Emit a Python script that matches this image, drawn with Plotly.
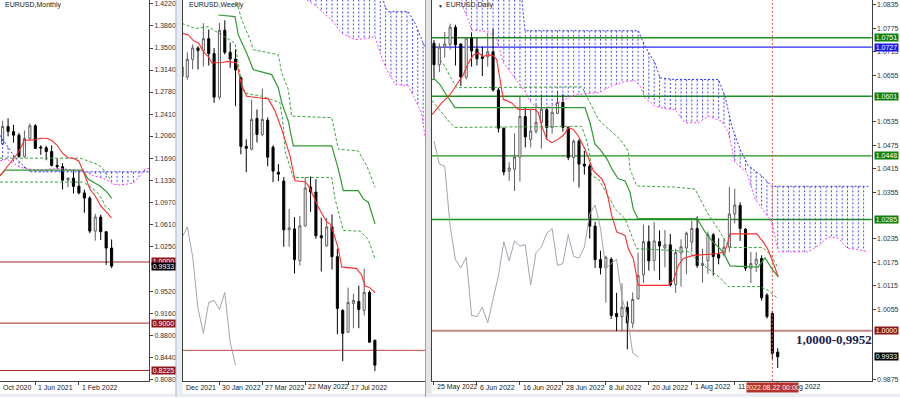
import numpy as np
import plotly.graph_objects as go

W, H = 900, 399
FONT = "Liberation Sans, Arial, sans-serif"

# ===================== DATA =====================
# ---- Monthly EURUSD, bars Dec 2020 .. Aug 2022 (index 0 = Dec 2020)
m_open  = [1.1927,1.2215,1.2136,1.2074,1.1728,1.2019,1.2228,1.1880,1.1869,1.1807,1.1580,
           1.1558,1.1338,1.1370,1.1240,1.1130,1.1045,1.0505,1.0735,1.0495,1.0228]
m_high  = [1.2310,1.2349,1.2243,1.2113,1.2150,1.2266,1.2254,1.1909,1.1901,1.1909,1.1692,
           1.1616,1.1386,1.1482,1.1495,1.1185,1.1076,1.0787,1.0774,1.0500,1.0369]
m_low   = [1.1924,1.2054,1.1952,1.1704,1.1704,1.1986,1.1847,1.1752,1.1664,1.1563,1.1524,
           1.1186,1.1222,1.1121,1.1106,1.0806,1.0471,1.0349,1.0359,0.9952,0.9901]
m_close = [1.2216,1.2136,1.2074,1.1728,1.2019,1.2228,1.1858,1.1866,1.1807,1.1580,1.1558,
           1.1338,1.1370,1.1235,1.1130,1.1045,1.0505,1.0735,1.0495,1.0228,0.9933]
m_tenkan_x = [-0.48,0.75,1.96,2.88,3.8,4,5,6,7,8,9,10,11,12,13,14,15,16,17,18,19,20]
m_tenkan_v = [1.1410,1.1546,1.1681,1.1790,1.1953,1.1991,1.1991,1.1999,1.2023,1.2023,1.1991,
              1.1909,1.1779,1.1706,1.1698,1.1649,1.1437,1.1193,1.1079,1.0916,1.0819,1.0721]
m_kijun_x = [-0.48,0.44,14.75,15.67,17.87,19.16,20]
m_kijun_v = [1.1410,1.1502,1.1502,1.1356,1.1242,1.1144,1.1040]
m_dash_up_x = [-0.48,14.2,17.3,18.2,19.3,20]
m_dash_up_v = [1.1698,1.1698,1.1600,1.1551,1.1405,1.1323]
m_dash_lo_x = [-0.48,14.6,15.7,17.3,18.2,18.8,20]
m_dash_lo_v = [1.1307,1.1307,1.1258,1.1144,1.1030,1.0916,1.0835]
m_cloud_a_x = [-0.48,0.44,1.36,2.27,3.19,4.11,5.03,26.9]
m_cloud_a_v = [1.2072,1.1953,1.1816,1.1709,1.1628,1.1546,1.1475,1.1475]
m_cloud_b_x = [-0.48,0.75,2.27,3.19,5.03,6.86,8.7,10.5,11.76,13.6,15.43,16.64,17.87,19.1,
               20.3,21.5,22.8,24,25.2,26.1,26.9]
m_cloud_b_v = [1.1654,1.1681,1.1600,1.1546,1.1519,1.1502,1.1519,1.1530,1.1519,1.1502,1.1465,
               1.1410,1.1383,1.1344,1.1274,1.1258,1.1274,1.1291,1.1410,1.1519,1.1530]
m_ticks = [1.4220,1.3860,1.3500,1.3140,1.2780,1.2410,1.2060,1.1690,1.1330,1.0970,1.0610,
           1.0250,0.9520,0.9160,0.8800,0.8440,0.8080]
m_levels = [1.0000, 0.9000, 0.8225]
m_date_idx = [-0.48, 6, 14]
m_date_txt = ["Oct 2020", "1 Jun 2021", "1 Feb 2022"]
m_tick_idx = [6, 14]

# ---- Weekly EURUSD (index 0 = week of 12 Dec 2021 .. 36 = 21 Aug 2022)
w_open  = [1.1285,1.1238,1.1318,1.1370,1.1358,1.1412,1.1344,1.1147,1.1450,1.1350,
           1.1320,1.1235,1.0924,1.0911,1.1050,1.0978,1.1042,1.0920,1.0807,1.0767,
           1.0546,1.0550,1.0406,1.0564,1.0740,1.0717,1.0519,1.0474,1.0559,1.0424,
           1.0181,1.0082,1.0212,1.0221,1.0181,1.0262,1.0046]
w_high  = [1.1360,1.1350,1.1386,1.1377,1.1482,1.1453,1.1370,1.1483,1.1495,1.1395,
           1.1365,1.1240,1.0956,1.1136,1.1091,1.1186,1.1055,1.0929,1.0843,1.0785,
           1.0641,1.0604,1.0609,1.0785,1.0787,1.0776,1.0601,1.0600,1.0615,1.0460,
           1.0186,1.0284,1.0257,1.0293,1.0370,1.0271,1.0046]
w_low   = [1.1222,1.1226,1.1273,1.1272,1.1286,1.1290,1.1121,1.1136,1.1340,1.1280,
           1.1106,1.0888,1.0807,1.0906,1.0942,1.0970,1.0834,1.0762,1.0767,1.0469,
           1.0469,1.0348,1.0384,1.0560,1.0627,1.0505,1.0357,1.0469,1.0366,1.0073,
           0.9951,1.0080,1.0100,1.0100,1.0158,1.0034,0.9906]
w_close = [1.1240,1.1318,1.1370,1.1358,1.1412,1.1344,1.1147,1.1450,1.1350,1.1320,
           1.1270,1.0924,1.0915,1.1046,1.0978,1.1046,1.0875,1.0812,1.0798,1.0546,
           1.0555,1.0411,1.0564,1.0735,1.0717,1.0519,1.0510,1.0559,1.0424,1.0190,
           1.0077,1.0217,1.0226,1.0185,1.0262,1.0037,0.9933]
w_tenkan_x = [0.0,1.19,2.13,3.06,4.31,4.93,5.56,7.43,8.66,10.22,11.16,12.09,14.25,16.12,17.37,
              18.62,20.17,21.1,22.97,23.58,24.51,25.45,27.01,27.63,28.25,29.18,29.81,32.61,
              33.54,34.16,35.09,36.03]
w_tenkan_v = [1.1437,1.1429,1.1403,1.1392,1.1344,1.1331,1.1302,1.1304,1.1309,1.1302,1.1196,
              1.1151,1.1144,1.1139,1.1084,1.1001,1.0881,1.0768,1.0764,1.0746,1.0700,1.0648,
              1.0581,1.0573,1.0535,1.0460,1.0378,1.0370,1.0340,1.0292,1.0283,1.0261]
w_kijun_x = [6.79,9.91,10.52,12.09,13.32,16.75,17.99,18.62,19.85,20.78,27.95,29.18,30.11,
             32.91,33.84,34.78,36.03]
w_kijun_v = [1.1519,1.1512,1.1429,1.1346,1.1271,1.1249,1.1189,1.1121,1.1038,1.0926,1.0926,
             1.0821,1.0723,1.0723,1.0686,1.0671,1.0573]
w_dash_lo_x = [0.0,2.44,4.93,9.91,10.52,11.16,11.77,14.89,16.75,18.3,18.92,19.24,20.78,
               27.95,28.56,30.11,33.23,34.78,36.03]
w_dash_lo_v = [1.1481,1.1458,1.1466,1.1391,1.1293,1.1211,1.1166,1.1151,1.1136,1.1121,1.1016,
               1.0903,1.0783,1.0783,1.0686,1.0543,1.0540,1.0502,1.0415]
w_dash_up_x = [10.0,11.16,12.71,13.32,17.99,18.62,19.85,20.49,27.95,28.56,29.18,32.91,34.48,36.03]
w_dash_up_v = [1.1600,1.1497,1.1407,1.1362,1.1339,1.1256,1.1181,1.1061,1.1054,1.0986,1.0911,
               1.0903,1.0836,1.0738]
w_cloud_a_x = [22.0,36.5,37.9,38.5,42.2,43.5,45.4]
w_cloud_a_v = [1.1680,1.1680,1.1557,1.1534,1.1534,1.1481,1.1370]
w_cloud_b_x = [22.0,23.3,24.8,27.9,29.8,32.3,34.8,36.0,37.0,37.9,39.8,42.2,43.2,44.7,45.4]
w_cloud_b_v = [1.1630,1.1587,1.1564,1.1497,1.1437,1.1407,1.1414,1.1422,1.1347,1.1286,1.1204,
               1.1199,1.1151,1.1076,1.0960]
w_level = 1.0000
w_date_txt = ["Dec 2021", "30 Jan 2022", "27 Mar 2022", "22 May 2022", "17 Jul 2022"]
w_date_idx = [0.2, 7, 15, 23, 31]

# ---- Daily EURUSD (index 0 = 25 May 2022 .. 64 = 23 Aug 2022)
d_open  = [1.0737,1.0682,1.0727,1.0734,1.0778,1.0735,1.0650,1.0750,1.0722,1.0702,
           1.0702,1.0715,1.0617,1.0519,1.0409,1.0414,1.0445,1.0549,1.0490,1.0511,
           1.0534,1.0567,1.0521,1.0557,1.0585,1.0521,1.0444,1.0486,1.0427,1.0422,
           1.0268,1.0182,1.0161,1.0183,1.0044,1.0036,1.0060,1.0019,1.0082,1.0143,
           1.0228,1.0180,1.0228,1.0212,1.0220,1.0118,1.0199,1.0212,1.0227,1.0262,
           1.0167,1.0180,1.0246,1.0195,1.0195,1.0214,1.0299,1.0321,1.0260,1.0160,
           1.0170,1.0185,1.0091,1.0044,0.9945]
d_high  = [1.0745,1.0737,1.0766,1.0787,1.0784,1.0737,1.0753,1.0765,1.0750,1.0728,
           1.0764,1.0774,1.0623,1.0521,1.0432,1.0506,1.0600,1.0572,1.0567,1.0580,
           1.0606,1.0572,1.0572,1.0615,1.0606,1.0524,1.0490,1.0491,1.0461,1.0428,
           1.0279,1.0205,1.0192,1.0188,1.0097,1.0121,1.0075,1.0098,1.0200,1.0272,
           1.0270,1.0278,1.0257,1.0258,1.0248,1.0210,1.0234,1.0254,1.0282,1.0293,
           1.0210,1.0254,1.0250,1.0237,1.0237,1.0368,1.0364,1.0329,1.0263,1.0202,
           1.0201,1.0193,1.0096,1.0051,0.9955]
d_low   = [1.0643,1.0663,1.0700,1.0720,1.0680,1.0627,1.0644,1.0677,1.0680,1.0653,
           1.0677,1.0613,1.0508,1.0398,1.0384,1.0358,1.0382,1.0470,1.0470,1.0505,
           1.0467,1.0490,1.0505,1.0555,1.0510,1.0437,1.0382,1.0367,1.0400,1.0236,
           1.0161,1.0144,1.0072,1.0030,0.9999,0.9998,0.9952,1.0006,1.0079,1.0122,
           1.0154,1.0153,1.0130,1.0162,1.0113,1.0097,1.0113,1.0145,1.0202,1.0161,
           1.0123,1.0146,1.0141,1.0170,1.0190,1.0202,1.0275,1.0230,1.0153,1.0122,
           1.0150,1.0077,1.0031,0.9926,0.9904]
d_close = [1.0682,1.0727,1.0735,1.0778,1.0733,1.0650,1.0750,1.0717,1.0697,1.0698,
           1.0715,1.0617,1.0519,1.0407,1.0417,1.0445,1.0549,1.0497,1.0512,1.0534,
           1.0568,1.0521,1.0560,1.0585,1.0521,1.0444,1.0486,1.0427,1.0422,1.0268,
           1.0182,1.0161,1.0188,1.0039,1.0036,1.0060,1.0020,1.0080,1.0141,1.0228,
           1.0179,1.0230,1.0217,1.0220,1.0117,1.0200,1.0215,1.0250,1.0262,1.0167,
           1.0172,1.0246,1.0190,1.0186,1.0214,1.0299,1.0322,1.0262,1.0160,1.0172,
           1.0183,1.0084,1.0036,0.9942,0.9933]
d_tenkan_x = [-0.37,1.43,2.98,3.91,4.53,5.46,6.39,7.32,8.25,9.18,10.11,11.04,11.68,12.29,12.9,
              14.47,15.7,18.8,19.42,20.06,20.99,21.92,23.15,24.08,25.01,25.94,26.87,28.12,
              29.05,29.66,31.23,31.84,32.46,33.09,34.02,35.57,36.18,37.11,38.04,43.6,44.56,
              45.49,46.42,48.29,52.64,54.19,54.8,55.12,60.09,61.32,62.25,63.18,64.12]
d_tenkan_v = [1.0554,1.0584,1.0605,1.0623,1.0635,1.0656,1.0686,1.0707,1.0712,1.0703,1.0707,
              1.0705,1.0695,1.0644,1.0593,1.0584,1.0567,1.0567,1.0559,1.0525,1.0491,1.0482,
              1.0491,1.0501,1.0520,1.0516,1.0499,1.0465,1.0431,1.0410,1.0389,1.0372,1.0338,
              1.0295,1.0253,1.0244,1.0210,1.0185,1.0116,1.0116,1.0129,1.0167,1.0185,1.0193,
              1.0197,1.0202,1.0231,1.0248,1.0248,1.0227,1.0206,1.0172,1.0138]
d_kijun_x = [-0.37,0.19,1.12,2.05,3.91,28.12,29.05,29.98,30.91,32.22,33.15,34.26,35.57,36.5,
             37.11,37.99,48.98,50.47,51.77,53.26,53.82,55.12,60.34,61.64,62.89,64.12]
d_kijun_v = [1.0644,1.0644,1.0631,1.0610,1.0572,1.0572,1.0533,1.0478,1.0465,1.0440,1.0414,
             1.0390,1.0384,1.0355,1.0312,1.0287,1.0287,1.0253,1.0230,1.0210,1.0202,1.0166,
             1.0163,1.0187,1.0159,1.0138]
d_dash_up_x = [1.12,2.05,2.98,4.23,27.56,28.49,30.6,32.16,34.64,36.18,36.5,37.75,44.88,48.6,
               49.53,50.84,51.96,53.26,54.56,55.12,61.27,62.94,64.12]
d_dash_up_v = [1.0695,1.0678,1.0652,1.0623,1.0625,1.0600,1.0542,1.0521,1.0491,1.0461,1.0414,
               1.0371,1.0368,1.0363,1.0338,1.0304,1.0279,1.0253,1.0223,1.0213,1.0213,1.0190,1.0159]
d_dash_lo_x = [-0.37,2.05,2.98,3.91,27.5,28.44,29.05,29.37,30.6,32.77,33.71,35.57,36.5,37.75,
               43.95,47.67,48.98,51.02,53.26,54.75,60.71,62.2,64.06]
d_dash_lo_v = [1.0590,1.0550,1.0533,1.0521,1.0524,1.0486,1.0448,1.0397,1.0389,1.0338,1.0312,
               1.0287,1.0253,1.0210,1.0206,1.0202,1.0180,1.0159,1.0136,1.0113,1.0113,1.0103,1.0082]
d_cloud_a_x = [5.0,16.0,16.94,38.04,39.29,41.15,42.09,44.88,52.94,54.19,55.44,56.98,58.53,
               61.02,62.89,80.88]
d_cloud_a_v = [1.0900,1.0900,1.0769,1.0769,1.0729,1.0686,1.0648,1.0644,1.0644,1.0601,1.0525,
               1.0465,1.0423,1.0397,1.0370,1.0370]
d_cloud_b_x = [5.0,5.46,6.39,7.02,10.11,11.68,12.9,14.15,15.7,16.95,17.88,18.81,20.06,21.92,
               24.39,26.26,30.6,33.09,35.57,37.43,38.36,39.29,41.15,43.02,44.88,46.74,49.22,
               51.08,53.58,54.8,56.05,58.23,59.78,62.89,64.12,69.7,71.57,73.43,75.29,76.85,80.88]
d_cloud_b_v = [1.0860,1.0827,1.0797,1.0771,1.0767,1.0746,1.0686,1.0665,1.0635,1.0614,1.0588,
               1.0576,1.0569,1.0576,1.0593,1.0605,1.0610,1.0627,1.0639,1.0641,1.0627,1.0597,
               1.0576,1.0569,1.0567,1.0533,1.0533,1.0550,1.0537,1.0508,1.0431,1.0406,1.0338,
               1.0278,1.0202,1.0202,1.0218,1.0240,1.0237,1.0212,1.0203]
d_ticks = [1.0835,1.0775,1.0715,1.0655,1.0535,1.0475,1.0415,1.0355,1.0235,
           1.0175,1.0115,1.0055,0.9875]
d_green_levels = [1.0751, 1.0601, 1.0448, 1.0285]
d_blue_level = 1.0727
d_red_level = 1.0000
d_date_idx = [0, 8, 16, 24, 32, 40, 48, 56, 64]
d_date_txt = ["25 May 2022", "6 Jun 2022", "16 Jun 2022", "28 Jun 2022", "8 Jul 2022",
              "20 Jul 2022", "1 Aug 2022", "11 Aug 2022", "23 Aug 2022"]
d_marker_idx = 63
d_marker_txt = "2022.08.22 00:00"
d_zone_txt = "1,0000-0,9952"
d_zone_pos = (74.5, 0.9978)
last_price = 0.9933
CHIKOU_SHIFT = 26

# ===================== LAYOUT GEOMETRY =====================
YD = [1 - 382.7 / H, 1.0]
M_DOM, M_RNG, M_YR = [0.0, 149 / W], [-0.48, 26.86], [0.8057, 1.4285]
W_DOM, W_RNG, W_YR = [183 / W, 425 / W], [0.2, 45.35], [0.9862, 1.1587]
D_DOM, D_RNG, D_YR = [432 / W, 871.7 / W], [-0.37, 81.5], [0.98714, 1.08478]

RED = "#ff2b2b"
GREEN = "#2f9a2f"
DGREEN = "#3aa53a"
BLUE = "#3030ff"
MAG = "#ff3cff"
GRAY = "#9ea7b1"

fig = go.Figure()


def line(xa, ya, x, y, color, width=1.0, dash=None):
    fig.add_trace(go.Scatter(x=x, y=y, xaxis=xa, yaxis=ya, mode="lines",
                             line=dict(color=color, width=width, dash=dash),
                             hoverinfo="skip", showlegend=False))


def hatch(xa, ya, ax, av, bx, bv, k0, k1):
    xs, ys = [], []
    for k in range(k0, k1 + 1):
        t = float(np.interp(k, ax, av))
        b = float(np.interp(k, bx, bv))
        xs += [k, k, None]
        ys += [t, b, None]
    line(xa, ya, xs, ys, "rgba(40,40,255,0.85)", 1, "2px,2px")


def candles(xa, ya, o, h, l, c):
    fig.add_trace(go.Candlestick(
        x=list(range(len(o))), open=o, high=h, low=l, close=c, xaxis=xa, yaxis=ya,
        increasing=dict(line=dict(color="#5e5e5e", width=1), fillcolor="#ffffff"),
        decreasing=dict(line=dict(color="#000000", width=1), fillcolor="#000000"),
        whiskerwidth=0, hoverinfo="skip", showlegend=False))


# ---------- Monthly ----------
hatch("x", "y", m_cloud_a_x, m_cloud_a_v, m_cloud_b_x, m_cloud_b_v, 0, 26)
line("x", "y", m_cloud_a_x, m_cloud_a_v, BLUE, 1, "2px,2px")
line("x", "y", m_cloud_b_x, m_cloud_b_v, MAG, 1, "2px,2px")
line("x", "y", m_dash_up_x, m_dash_up_v, DGREEN, 1, "3px,2px")
line("x", "y", m_dash_lo_x, m_dash_lo_v, DGREEN, 1, "3px,2px")
line("x", "y", m_kijun_x, m_kijun_v, GREEN, 1.2)
line("x", "y", m_tenkan_x, m_tenkan_v, RED, 1.1)
candles("x", "y", m_open, m_high, m_low, m_close)

# ---------- Weekly ----------
hatch("x2", "y2", w_cloud_a_x, w_cloud_a_v, w_cloud_b_x, w_cloud_b_v, 22, 45)
line("x2", "y2", w_cloud_a_x, w_cloud_a_v, BLUE, 1, "2px,2px")
line("x2", "y2", w_cloud_b_x, w_cloud_b_v, MAG, 1, "2px,2px")
wk_idx = np.arange(len(w_close))
line("x2", "y2", list(wk_idx[CHIKOU_SHIFT - 1:] - CHIKOU_SHIFT), w_close[CHIKOU_SHIFT - 1:], GRAY, 1)
line("x2", "y2", w_dash_up_x, w_dash_up_v, DGREEN, 1, "3px,2px")
line("x2", "y2", w_dash_lo_x, w_dash_lo_v, DGREEN, 1, "3px,2px")
line("x2", "y2", w_kijun_x, w_kijun_v, GREEN, 1.2)
line("x2", "y2", w_tenkan_x, w_tenkan_v, RED, 1.1)
candles("x2", "y2", w_open, w_high, w_low, w_close)

# ---------- Daily ----------
hatch("x3", "y3", d_cloud_a_x, d_cloud_a_v, d_cloud_b_x, d_cloud_b_v, 5, 80)
line("x3", "y3", d_cloud_a_x, d_cloud_a_v, BLUE, 1, "2px,2px")
line("x3", "y3", d_cloud_b_x, d_cloud_b_v, MAG, 1, "2px,2px")
dd_idx = np.arange(len(d_close))
line("x3", "y3", list(dd_idx[CHIKOU_SHIFT:] - CHIKOU_SHIFT), d_close[CHIKOU_SHIFT:], GRAY, 1)
line("x3", "y3", d_dash_up_x, d_dash_up_v, DGREEN, 1, "3px,2px")
line("x3", "y3", d_dash_lo_x, d_dash_lo_v, DGREEN, 1, "3px,2px")
line("x3", "y3", d_kijun_x, d_kijun_v, GREEN, 1.2)
line("x3", "y3", d_tenkan_x, d_tenkan_v, RED, 1.1)
candles("x3", "y3", d_open, d_high, d_low, d_close)

# ===================== SHAPES =====================
shapes = []
for lv in m_levels:
    shapes.append(dict(type="line", xref="x domain", x0=0, x1=1, yref="y", y0=lv, y1=lv,
                       line=dict(color="#a52a2a", width=1), layer="below"))
shapes.append(dict(type="line", xref="x2 domain", x0=0, x1=1, yref="y2", y0=w_level, y1=w_level,
                   line=dict(color="#c84848", width=1), layer="below"))
for lv in d_green_levels:
    shapes.append(dict(type="line", xref="x3 domain", x0=0, x1=1, yref="y3", y0=lv, y1=lv,
                       line=dict(color="#1f8f1f", width=1.3), layer="below"))
shapes.append(dict(type="line", xref="x3 domain", x0=0, x1=1, yref="y3", y0=d_blue_level,
                   y1=d_blue_level, line=dict(color="#2a2aff", width=1.3), layer="below"))
shapes.append(dict(type="line", xref="x3 domain", x0=0, x1=1, yref="y3", y0=d_red_level,
                   y1=d_red_level, line=dict(color="#c38686", width=2), layer="below"))
shapes.append(dict(type="line", xref="x3", x0=d_marker_idx, x1=d_marker_idx, yref="y3 domain",
                   y0=0, y1=1, line=dict(color="#e04040", width=1, dash="2px,2px"), layer="above"))
# window frames
shapes.append(dict(type="rect", xref="paper", yref="paper", x0=175.5 / W, x1=182.5 / W, y0=0, y1=1,
                   fillcolor="#e9edf3", line=dict(width=0), layer="below"))
shapes.append(dict(type="line", xref="paper", yref="paper", x0=176 / W, x1=176 / W, y0=0, y1=1,
                   line=dict(color="#a9b9cf", width=1)))
shapes.append(dict(type="rect", xref="paper", yref="paper", x0=425 / W, x1=431.5 / W, y0=0, y1=1,
                   fillcolor="#e4e4e4", line=dict(width=0), layer="below"))
shapes.append(dict(type="line", xref="paper", yref="paper", x0=425.5 / W, x1=425.5 / W, y0=0, y1=1,
                   line=dict(color="#a0a0a0", width=1)))
shapes.append(dict(type="rect", xref="paper", yref="paper", x0=0, x1=1, y0=0, y1=3.5 / H,
                   fillcolor="#e9edf3", line=dict(width=0), layer="below"))

# ===================== ANNOTATIONS =====================
ann = []


def xpaper(dom, rng, v):
    return dom[0] + (v - rng[0]) / (rng[1] - rng[0]) * (dom[1] - dom[0])


def txt(x, y, s, size=7, color="#202020", xanchor="left", **kw):
    d = dict(xref="paper", yref="paper", x=x, y=y, text=s, showarrow=False, xanchor=xanchor,
             yanchor="middle", font=dict(size=size, color=color, family=FONT))
    d.update(kw)
    ann.append(d)


DATE_Y = 1 - 389 / H
for i, s in zip(m_date_idx, m_date_txt):
    txt(xpaper(M_DOM, M_RNG, i) + 1 / W, DATE_Y, s)
for i, s in zip(w_date_idx, w_date_txt):
    txt(xpaper(W_DOM, W_RNG, i) + 1 / W, DATE_Y, s)
for i, s in zip(d_date_idx, d_date_txt):
    txt(xpaper(D_DOM, D_RNG, i) + 1 / W, DATE_Y, s)

txt(3 / W, 1 - 5 / H, "EURUSD,Monthly")
txt(186.5 / W, 1 - 5 / H, "EURUSD,Weekly")
txt(435.5 / W, 1 - 6 / H, "▼", size=5)
txt(444 / W, 1 - 5 / H, "EURUSD,Daily")


def pbox(yref, val, xpx, bg, text=None):
    ann.append(dict(xref="paper", x=xpx / W, xanchor="left", yref=yref, y=val, yanchor="middle",
                    text=text or f"{val:.4f}", showarrow=False,
                    font=dict(size=7, color="#ffffff", family=FONT), bgcolor=bg,
                    width=23, height=7, borderpad=0, align="center", valign="middle"))


for lv in m_levels:
    pbox("y", lv, 150.7, "#8e1616")
pbox("y", last_price, 150.7, "#000000")
for lv in d_green_levels:
    pbox("y3", lv, 873.5, "#0e800e")
pbox("y3", d_blue_level, 873.5, "#1a1aee")
pbox("y3", d_red_level, 873.5, "#8e1616")
pbox("y3", last_price, 873.5, "#000000")

ann.append(dict(xref="x3", x=d_zone_pos[0], yref="y3", y=d_zone_pos[1], text=f"<b>{d_zone_txt}</b>",
                showarrow=False, xanchor="center", yanchor="middle",
                font=dict(size=13, color="#1c1c4e", family="Liberation Serif, Times New Roman, serif")))
ann.append(dict(xref="x3", x=d_marker_idx, yref="paper", y=DATE_Y, text=d_marker_txt, showarrow=False,
                xanchor="center", yanchor="middle", font=dict(size=7, color="#ffffff", family=FONT),
                bgcolor="#b8322c", width=51, height=9, borderpad=0))

# ===================== AXES =====================
AX = dict(showgrid=False, zeroline=False, fixedrange=True, linecolor="#404040", linewidth=1,
          tickcolor="#404040", tickfont=dict(size=7, color="#303030", family=FONT))

layout_axes = dict(
    xaxis=dict(AX, domain=M_DOM, range=M_RNG, anchor="y", showline=True, ticks="outside", ticklen=3,
               tickvals=m_tick_idx, showticklabels=False),
    yaxis=dict(AX, domain=YD, range=M_YR, anchor="x", side="right", showline=True, ticks="outside",
               ticklen=3, tickvals=m_ticks, ticktext=[f"{v:.4f}" for v in m_ticks]),
    xaxis2=dict(AX, domain=W_DOM, range=W_RNG, anchor="y2", showline=True, ticks="outside", ticklen=3,
                tickvals=w_date_idx[1:], showticklabels=False),
    yaxis2=dict(AX, domain=YD, range=W_YR, anchor="x2", side="left", showline=True, ticks="",
                showticklabels=False),
    xaxis3=dict(AX, domain=D_DOM, range=D_RNG, anchor="y3", showline=True, ticks="outside", ticklen=3,
                tickvals=d_date_idx, showticklabels=False),
    yaxis3=dict(AX, domain=YD, range=D_YR, anchor="x3", side="right", showline=True, mirror=True,
                ticks="outside", ticklen=3, tickvals=d_ticks, ticktext=[f"{v:.4f}" for v in d_ticks]),
)

fig.update_layout(
    width=W, height=H, margin=dict(l=0, r=0, t=0, b=0),
    paper_bgcolor="#ffffff", plot_bgcolor="#ffffff",
    showlegend=False, hovermode=False, boxgap=0.45,
    shapes=shapes, annotations=ann, **layout_axes)
for ax in ["xaxis", "xaxis2", "xaxis3"]:
    fig.layout[ax].rangeslider = dict(visible=False)

fig.write_html("out.html")
